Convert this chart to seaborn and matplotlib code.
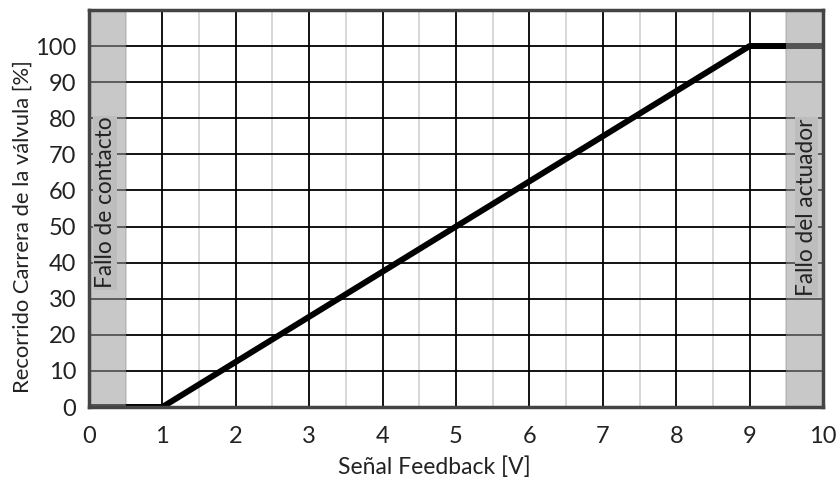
import matplotlib
matplotlib.use("Agg")
import matplotlib.pyplot as plt
import seaborn as sns
import pandas as pd
import numpy as np

# data
signal_v = [0, 1, 9, 10]
stroke_pct = [0, 0, 100, 100]
x_ticks = [0, 1, 2, 3, 4, 5, 6, 7, 8, 9, 10]
y_ticks = [0, 10, 20, 30, 40, 50, 60, 70, 80, 90, 100]
fault_zones = [(0, 0.5), (9.5, 10)]
fault_labels = ["Fallo de contacto", "Fallo del actuador"]
label_x = [0.22, 9.77]
label_y = [56.6, 55.3]

sns.set_theme(style="white")
plt.rcParams['font.family'] = ['Lato', 'DejaVu Sans']

fig = plt.figure(figsize=(8.37, 4.79), dpi=100)
ax = fig.add_axes([0.1063, 0.1503, 0.877, 0.829])

df = pd.DataFrame({"x": signal_v, "y": stroke_pct})

# grid
for xv in np.arange(0.5, 10, 1.0):
    ax.axvline(xv, color="#d4d4d4", lw=1.3, zorder=1)
for xv in x_ticks[1:-1]:
    ax.axvline(xv, color="black", lw=1.3, zorder=1.5)
for yv in y_ticks[1:]:
    ax.axhline(yv, color="black", lw=1.3, zorder=1.5)

sns.lineplot(data=df, x="x", y="y", ax=ax, color="black", lw=4.3, zorder=3)

for (a, b) in fault_zones:
    ax.axvspan(a, b, color=(155/255, 155/255, 155/255), alpha=0.55, lw=0, zorder=4)

for t, lx, ly in zip(fault_labels, label_x, label_y):
    ax.text(lx, ly, t, rotation=90, ha="center", va="center", fontsize=16.3,
            color="#222222", zorder=5,
            bbox=dict(boxstyle="square,pad=0.05", fc="#bdbdbd", ec="none"))

ax.set_xlim(0, 10)
ax.set_ylim(0, 110)
ax.set_xticks(x_ticks)
ax.set_yticks(y_ticks)
ax.tick_params(axis="x", length=0, pad=14, labelsize=17, labelcolor="#222222")
ax.tick_params(axis="y", length=0, pad=9, labelsize=17, labelcolor="#222222")
ax.set_xlabel("Señal Feedback [V]", fontsize=16.5, color="#222222")
ax.set_ylabel("Recorrido Carrera de la válvula [%]", fontsize=15.8, color="#222222")
ax.xaxis.set_label_coords(0.471, -0.124)
ax.yaxis.set_label_coords(-0.077, 0.455)

for s in ax.spines.values():
    s.set_color("#444444")
    s.set_linewidth(2.5)
    s.set_zorder(6)

fig.savefig("out.png", dpi=100)
